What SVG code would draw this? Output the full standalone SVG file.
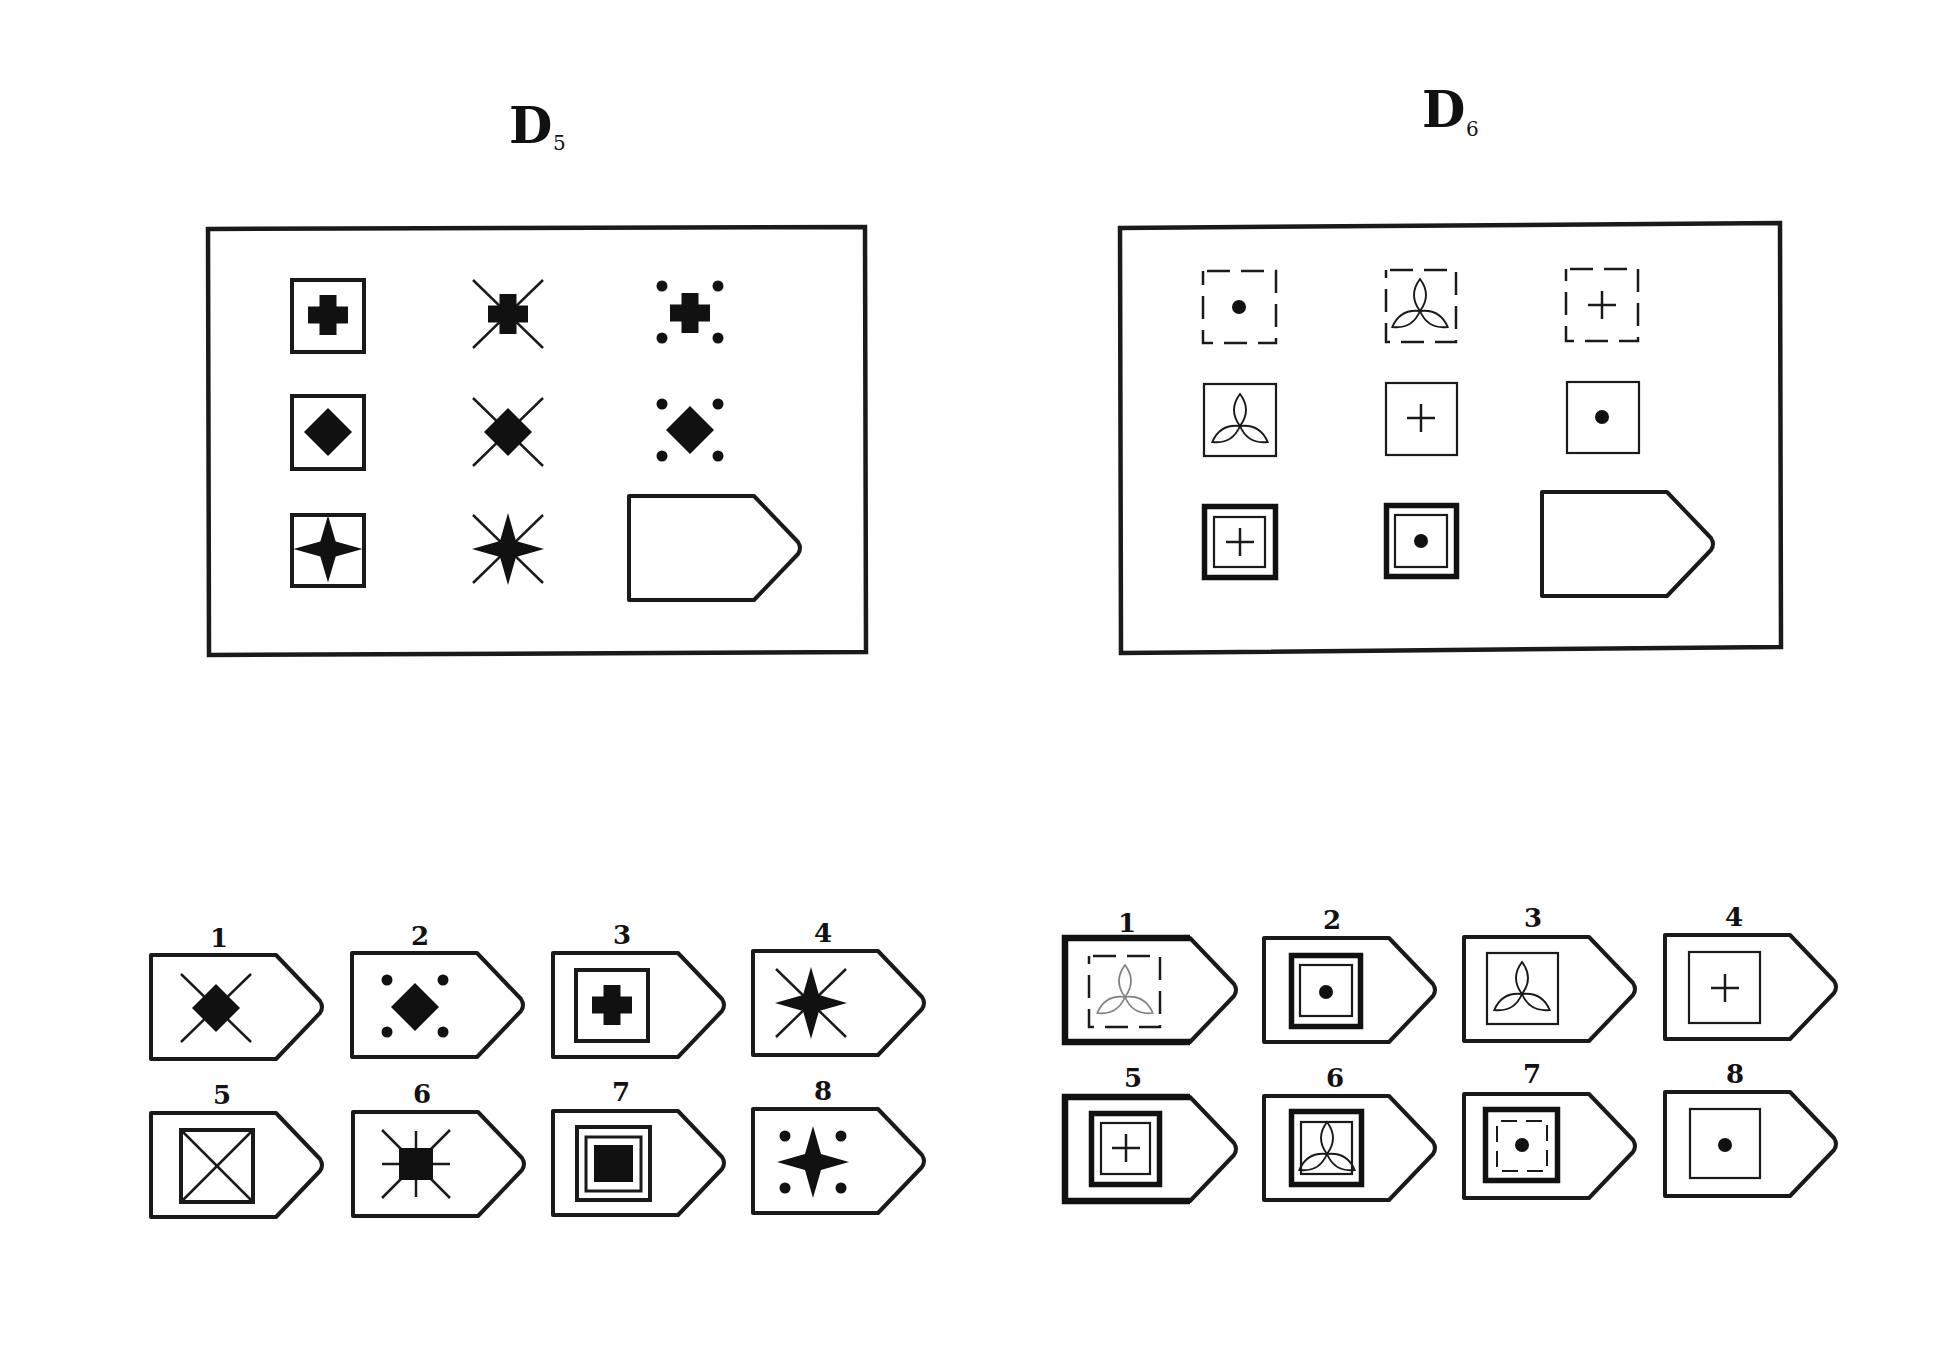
<svg xmlns="http://www.w3.org/2000/svg" xmlns:xlink="http://www.w3.org/1999/xlink" width="1946" height="1352" viewBox="0 0 1946 1352">
<style>
  .bg { fill:#ffffff; }
  .frame { fill:none; stroke:#1a1a1a; stroke-width:4.5; stroke-linejoin:miter; }
  .pent { fill:none; stroke:#1a1a1a; stroke-width:4; stroke-linejoin:round; }
  .pthick { fill:none; stroke:#111; stroke-width:6.5; stroke-linejoin:miter; }
  .sq { fill:none; stroke:#1a1a1a; stroke-width:4; }
  .sq3 { fill:none; stroke:#1a1a1a; stroke-width:3; }
  .thin { fill:none; stroke:#1a1a1a; stroke-width:2.2; }
  .thick { fill:none; stroke:#111; stroke-width:5.5; }
  .dash { fill:none; stroke:#1a1a1a; stroke-width:2.5; stroke-dasharray:23 11; stroke-dashoffset:-4; }
  .blk { fill:#111; stroke:none; }
  .ln { stroke:#1a1a1a; stroke-width:2.5; fill:none; }
  .tref { fill:none; stroke:#1a1a1a; stroke-width:1.9; }
  .trefg { fill:none; stroke:#808080; stroke-width:1.7; }
  .title { font-family:"DejaVu Serif","Liberation Serif",serif; font-weight:bold; font-size:50px; fill:#111; }
  .sub { font-family:"DejaVu Serif","Liberation Serif",serif; font-size:20px; fill:#111; }
  .num { font-family:"DejaVu Serif","Liberation Serif",serif; font-weight:bold; font-size:26px; fill:#111; text-anchor:middle; }
</style>
<defs>
  <path id="pent" d="M0,0 H125 L169,46 Q173,52 169,58 L125,104 H0 Z"/>
  <path id="pthickpath" d="M125,0 H0 V104 H125"/>
  <path id="cross" d="M-8.5,-20h17v11.5h11.5v17h-11.5v11.5h-17v-11.5h-11.5v-17h11.5z"/>
  <path id="diamond" d="M0,-24L24,0L0,24L-24,0Z"/>
  <path id="star" d="M0,-36L8,-8L36,0L8,8L0,36L-8,8L-36,0L-8,-8Z"/>
  <g id="xl" class="ln"><line x1="-35" y1="-34" x2="35" y2="34"/><line x1="35" y1="-34" x2="-35" y2="34"/></g>
  <g id="dots" class="blk"><circle cx="-28" cy="-26" r="5.5"/><circle cx="28" cy="-26" r="5.5"/><circle cx="-28" cy="26" r="5.5"/><circle cx="28" cy="26" r="5.5"/></g>
  <path id="petal" d="M0,0 Q-12,-16 0,-32 Q12,-16 0,0Z"/>
  <g id="trefoil"><use xlink:href="#petal"/><use xlink:href="#petal" transform="rotate(120)"/><use xlink:href="#petal" transform="rotate(240)"/></g>
  <g id="plus" class="ln"><line x1="-14" y1="0" x2="14" y2="0"/><line x1="0" y1="-14" x2="0" y2="14"/></g>
  <g id="sun" class="ln"><line x1="0" y1="-33" x2="0" y2="33"/><line x1="-34" y1="0" x2="34" y2="0"/><line x1="-34" y1="-34" x2="34" y2="34"/><line x1="34" y1="-34" x2="-34" y2="34"/></g>
</defs>
<rect class="bg" x="0" y="0" width="1946" height="1352"/>

<!-- ===== D5 ===== -->
<g id="title-d5"><text class="title" x="509" y="143">D</text><text class="sub" x="553" y="150">5</text></g>
<g id="d5-panel">
  <polygon class="frame" points="208,229 865,227 866,652 209,655"/>
  <g id="d5-r1c1"><rect class="sq" x="292" y="280" width="72" height="72"/><use class="blk" xlink:href="#cross" x="328" y="315"/></g>
  <g id="d5-r1c2"><use xlink:href="#xl" x="508" y="314"/><use class="blk" xlink:href="#cross" x="508" y="314"/></g>
  <g id="d5-r1c3"><use xlink:href="#dots" x="690" y="312"/><use class="blk" xlink:href="#cross" x="690" y="313"/></g>
  <g id="d5-r2c1"><rect class="sq" x="292" y="396" width="72" height="73"/><use class="blk" xlink:href="#diamond" x="328" y="432"/></g>
  <g id="d5-r2c2"><use xlink:href="#xl" x="508" y="432"/><use class="blk" xlink:href="#diamond" x="508" y="432"/></g>
  <g id="d5-r2c3"><use xlink:href="#dots" x="690" y="430"/><use class="blk" xlink:href="#diamond" x="690" y="430"/></g>
  <g id="d5-r3c1"><rect class="sq" x="292" y="515" width="72" height="71"/><use class="blk" xlink:href="#star" transform="translate(328,549) scale(0.96,0.93)"/></g>
  <g id="d5-r3c2"><use xlink:href="#xl" x="508" y="549"/><use class="blk" xlink:href="#star" transform="translate(508,549) scale(1,1)"/></g>
  <g id="d5-answer"><use class="pent" xlink:href="#pent" x="629" y="496"/></g>
</g>

<g id="d5-options">
  <g id="d5-opt1"><text class="num" x="219" y="947">1</text><use class="pent" xlink:href="#pent" x="151" y="955"/><use xlink:href="#xl" x="216" y="1008"/><use class="blk" xlink:href="#diamond" x="216" y="1008"/></g>
  <g id="d5-opt2"><text class="num" x="420" y="945">2</text><use class="pent" xlink:href="#pent" x="352" y="953"/><use xlink:href="#dots" x="415" y="1006"/><use class="blk" xlink:href="#diamond" x="415" y="1007"/></g>
  <g id="d5-opt3"><text class="num" x="622" y="944">3</text><use class="pent" xlink:href="#pent" x="553" y="953"/><rect class="sq" x="576" y="970" width="72" height="71"/><use class="blk" xlink:href="#cross" x="612" y="1005"/></g>
  <g id="d5-opt4"><text class="num" x="823" y="942">4</text><use class="pent" xlink:href="#pent" x="753" y="951"/><use xlink:href="#xl" x="811" y="1003"/><use class="blk" xlink:href="#star" x="811" y="1003"/></g>
  <g id="d5-opt5"><text class="num" x="222" y="1104">5</text><use class="pent" xlink:href="#pent" x="151" y="1113"/><rect class="sq" x="181" y="1130" width="72" height="72"/><g class="ln"><line x1="183" y1="1132" x2="251" y2="1200"/><line x1="251" y1="1132" x2="183" y2="1200"/></g></g>
  <g id="d5-opt6"><text class="num" x="422" y="1103">6</text><use class="pent" xlink:href="#pent" x="353" y="1112"/><use xlink:href="#sun" x="416" y="1164"/><rect class="blk" x="399" y="1148" width="34" height="32"/></g>
  <g id="d5-opt7"><text class="num" x="621" y="1101">7</text><use class="pent" xlink:href="#pent" x="553" y="1111"/><rect class="sq" x="577" y="1127" width="73" height="73"/><rect class="sq3" x="586" y="1137" width="55" height="54"/><rect class="blk" x="594" y="1145" width="39" height="37"/></g>
  <g id="d5-opt8"><text class="num" x="823" y="1100">8</text><use class="pent" xlink:href="#pent" x="753" y="1109"/><use xlink:href="#dots" x="813" y="1162"/><use class="blk" xlink:href="#star" x="813" y="1162"/></g>
</g>

<!-- ===== D6 ===== -->
<g id="title-d6"><text class="title" x="1422" y="127">D</text><text class="sub" x="1466" y="136">6</text></g>
<g id="d6-panel">
  <polygon class="frame" points="1120,228 1780,223 1781,647 1121,653"/>
  <g id="d6-r1c1"><rect class="dash" x="1203" y="271" width="73" height="72"/><circle class="blk" cx="1239" cy="307" r="7"/></g>
  <g id="d6-r1c2"><rect class="dash" x="1386" y="270" width="70" height="72"/><use class="tref" xlink:href="#trefoil" x="1420" y="311"/></g>
  <g id="d6-r1c3"><rect class="dash" x="1566" y="269" width="72" height="72"/><use xlink:href="#plus" x="1602" y="305"/></g>
  <g id="d6-r2c1"><rect class="thin" x="1204" y="384" width="72" height="72"/><use class="tref" xlink:href="#trefoil" x="1240" y="426"/></g>
  <g id="d6-r2c2"><rect class="thin" x="1386" y="383" width="71" height="72"/><use xlink:href="#plus" x="1421" y="418"/></g>
  <g id="d6-r2c3"><rect class="thin" x="1567" y="382" width="72" height="71"/><circle class="blk" cx="1602" cy="417" r="7"/></g>
  <g id="d6-r3c1"><rect class="thick" x="1204.5" y="506.5" width="71" height="71"/><rect class="thin" x="1214" y="517" width="51" height="50"/><use xlink:href="#plus" x="1240" y="542"/></g>
  <g id="d6-r3c2"><rect class="thick" x="1386.5" y="505.5" width="70" height="71"/><rect class="thin" x="1395" y="515" width="52" height="52"/><circle class="blk" cx="1421" cy="541" r="7"/></g>
  <g id="d6-answer"><use class="pent" xlink:href="#pent" x="1542" y="492"/></g>
</g>

<g id="d6-options">
  <g id="d6-opt1"><text class="num" x="1127" y="932">1</text><use class="pent" xlink:href="#pent" x="1065" y="938"/><use class="pthick" xlink:href="#pthickpath" x="1065" y="938"/><rect class="dash" x="1089" y="956" width="71" height="71"/><use class="trefg" xlink:href="#trefoil" x="1125" y="997"/></g>
  <g id="d6-opt2"><text class="num" x="1332" y="929">2</text><use class="pent" xlink:href="#pent" x="1264" y="938"/><rect class="thick" x="1291.5" y="955.5" width="69" height="71"/><rect class="thin" x="1300" y="965" width="52" height="51"/><circle class="blk" cx="1326" cy="992" r="7"/></g>
  <g id="d6-opt3"><text class="num" x="1533" y="927">3</text><use class="pent" xlink:href="#pent" x="1464" y="937"/><rect class="thin" x="1487" y="953" width="71" height="71"/><use class="tref" xlink:href="#trefoil" x="1522" y="994"/></g>
  <g id="d6-opt4"><text class="num" x="1734" y="926">4</text><use class="pent" xlink:href="#pent" x="1665" y="935"/><rect class="thin" x="1689" y="952" width="71" height="71"/><use xlink:href="#plus" x="1725" y="988"/></g>
  <g id="d6-opt5"><text class="num" x="1133" y="1087">5</text><use class="pent" xlink:href="#pent" x="1065" y="1097"/><use class="pthick" xlink:href="#pthickpath" x="1065" y="1097"/><rect class="thick" x="1091.5" y="1113.5" width="68" height="71"/><rect class="thin" x="1101" y="1123" width="49" height="51"/><use xlink:href="#plus" x="1126" y="1148"/></g>
  <g id="d6-opt6"><text class="num" x="1335" y="1087">6</text><use class="pent" xlink:href="#pent" x="1264" y="1096"/><rect class="thick" x="1291.5" y="1111.5" width="70" height="73"/><rect class="thin" x="1301" y="1122" width="51" height="52"/><use class="tref" xlink:href="#trefoil" x="1327" y="1154"/></g>
  <g id="d6-opt7"><text class="num" x="1532" y="1083">7</text><use class="pent" xlink:href="#pent" x="1464" y="1094"/><rect class="thick" x="1485.5" y="1109.5" width="72" height="71"/><rect class="dash" x="1497" y="1121" width="50" height="50" style="stroke-width:2;stroke-dasharray:16 9"/><circle class="blk" cx="1522" cy="1145" r="7"/></g>
  <g id="d6-opt8"><text class="num" x="1735" y="1083">8</text><use class="pent" xlink:href="#pent" x="1665" y="1092"/><rect class="thin" x="1690" y="1109" width="70" height="69"/><circle class="blk" cx="1725" cy="1145" r="7"/></g>
</g>
<g id="connectors"></g>
</svg>
